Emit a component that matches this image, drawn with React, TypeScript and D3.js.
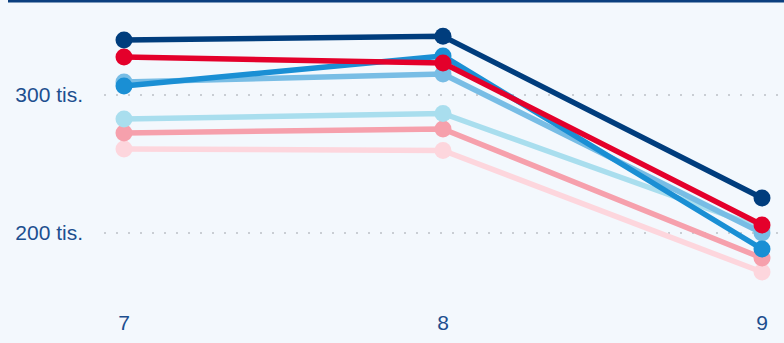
import React from "react";
import * as d3 from "d3";

const categories = ["7", "8", "9"];
const yTicks = [200000, 300000];
const yTickLabels = ["200 tis.", "300 tis."];

const seriesNames = ["s1", "s2", "s3", "s4", "s5", "s6", "s7"];
const seriesColors = ["#fdd6dd", "#f6a0ac", "#a9deee", "#78bde5", "#1a8fd4", "#e4002b", "#003d7d"];
const s1 = [260900, 259800, 171700];
const s2 = [272500, 275400, 181900];
const s3 = [282600, 286600, 203600];
const s4 = [309400, 315200, 200000];
const s5 = [306500, 328300, 188400];
const s6 = [327500, 323200, 205800];
const s7 = [339900, 342500, 225400];
const seriesValues = [s1, s2, s3, s4, s5, s6, s7];

const W = 784;
const H = 343;

export default function App() {
  const x = d3.scalePoint<string>().domain(categories).range([124, 762]);
  const y = d3.scaleLinear().domain([200000, 300000]).range([233, 95]);
  const line = d3
    .line<number>()
    .x((_, i) => x(categories[i]) as number)
    .y((d) => y(d));

  const textColor = "#1d4f8f";
  return (
    <div style={{ position: "fixed", left: 0, top: 0, width: W, height: H }}>
      <svg width={W} height={H} style={{ display: "block" }}>
        <rect x={0} y={0} width={W} height={H} fill="#f3f8fd" />
        <rect x={8} y={0} width={W - 8} height={2.5} fill="#0b3f7f" />
        {yTicks.map((t, i) => (
          <g key={t}>
            <line
              x1={104}
              x2={W}
              y1={y(t)}
              y2={y(t)}
              stroke="#c9ced4"
              strokeWidth={2}
              strokeDasharray="2 10"
            />
            <text
              x={83}
              y={y(t)}
              dy="0.35em"
              textAnchor="end"
              fontFamily="'Liberation Sans', Arial, sans-serif"
              fontSize={21}
              fill={textColor}
            >
              {yTickLabels[i]}
            </text>
          </g>
        ))}
        {categories.map((c) => (
          <text
            key={c}
            x={x(c)}
            y={330}
            textAnchor="middle"
            fontFamily="'Liberation Sans', Arial, sans-serif"
            fontSize={21}
            fill={textColor}
          >
            {c}
          </text>
        ))}
        {seriesValues.map((vals, si) => (
          <g key={seriesNames[si]}>
            <path
              d={line(vals) || ""}
              fill="none"
              stroke={seriesColors[si]}
              strokeWidth={5.5}
              strokeLinejoin="round"
            />
            {vals.map((v, i) => (
              <circle
                key={i}
                cx={x(categories[i])}
                cy={y(v)}
                r={8.5}
                fill={seriesColors[si]}
              />
            ))}
          </g>
        ))}
      </svg>
    </div>
  );
}
